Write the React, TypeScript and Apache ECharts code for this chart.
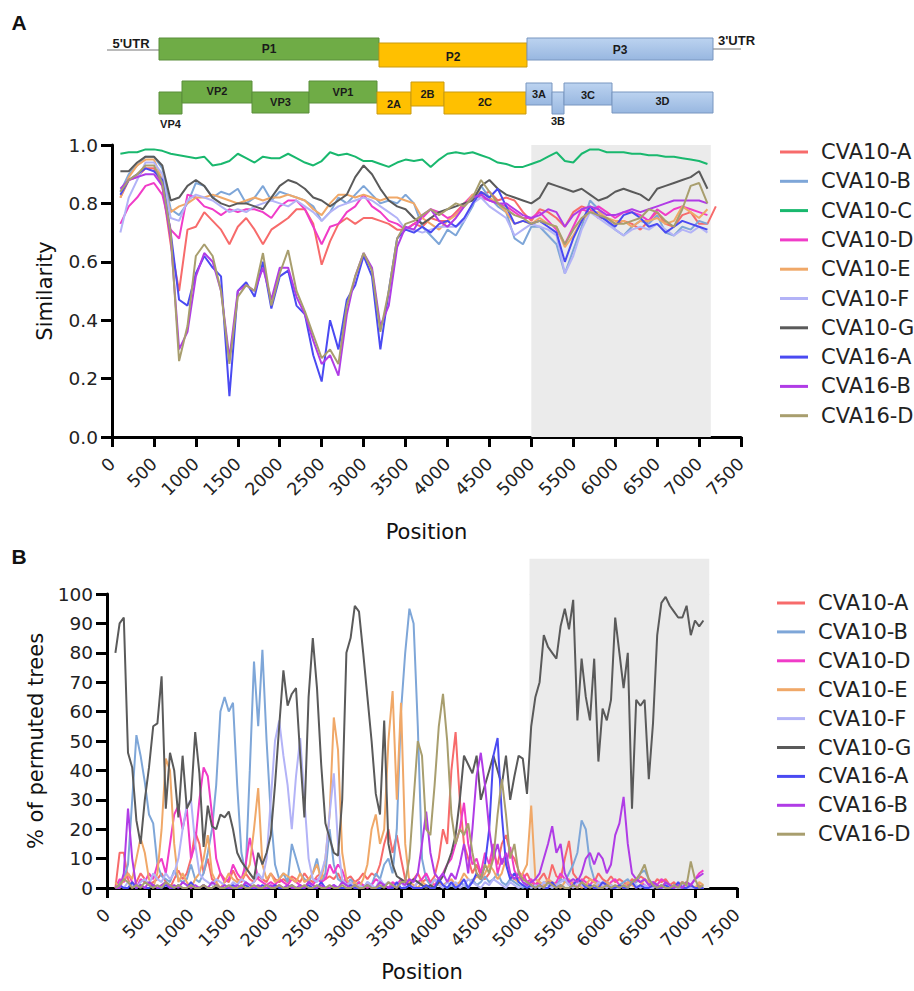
import React, { useEffect, useRef } from 'react';
import * as echarts from 'echarts';

// ---------- names & colours ----------
const NAMES_A = ['CVA10-A', 'CVA10-B', 'CVA10-C', 'CVA10-D', 'CVA10-E', 'CVA10-F', 'CVA10-G', 'CVA16-A', 'CVA16-B', 'CVA16-D'];
const NAMES_B = ['CVA10-A', 'CVA10-B', 'CVA10-D', 'CVA10-E', 'CVA10-F', 'CVA10-G', 'CVA16-A', 'CVA16-B', 'CVA16-D'];
const COLORS: Record<string, string> = {
  'CVA10-A': '#F76B6B',
  'CVA10-B': '#7EA6D8',
  'CVA10-C': '#19B86E',
  'CVA10-D': '#F03CC8',
  'CVA10-E': '#F0A868',
  'CVA10-F': '#B3B3F7',
  'CVA10-G': '#5A5A5A',
  'CVA16-A': '#4A4AF2',
  'CVA16-B': '#B03CE6',
  'CVA16-D': '#A89E6E',
};

// ---------- axis ticks ----------
const X_TICKS_MAX = 7500;
const X_TICK_STEP = 500;
const SIM_TICK_STEP = 0.2;
const PERM_TICK_STEP = 10;

// ---------- panel A: similarity (window positions 100..7200, step 100) ----------
const posA = Array.from({ length: 72 }, (_, i) => 100 + i * 100);

const simCVA10A = [
  0.82, 0.88, 0.89, 0.92, 0.92, 0.86, 0.66, 0.50, 0.71, 0.72,
  0.77, 0.74, 0.71, 0.66, 0.72, 0.75, 0.71, 0.66, 0.71, 0.73,
  0.75, 0.78, 0.78, 0.73, 0.59, 0.67, 0.73, 0.75, 0.73, 0.75,
  0.75, 0.74, 0.73, 0.71, 0.71, 0.73, 0.72, 0.75, 0.74, 0.74,
  0.77, 0.80, 0.82, 0.83, 0.84, 0.81, 0.82, 0.81, 0.77, 0.74,
  0.78, 0.77, 0.75, 0.72, 0.77, 0.79, 0.78, 0.75, 0.75, 0.73,
  0.74, 0.73, 0.71, 0.74, 0.77, 0.73, 0.72, 0.76, 0.77, 0.73,
  0.73, 0.79,
];
const simCVA10B = [
  0.84, 0.90, 0.93, 0.96, 0.96, 0.92, 0.78, 0.76, 0.80, 0.87,
  0.86, 0.82, 0.84, 0.83, 0.85, 0.80, 0.82, 0.86, 0.81, 0.84,
  0.83, 0.82, 0.81, 0.79, 0.74, 0.77, 0.82, 0.80, 0.83, 0.86,
  0.83, 0.80, 0.81, 0.80, 0.83, 0.80, 0.72, 0.69, 0.66, 0.71,
  0.69, 0.74, 0.79, 0.86, 0.82, 0.79, 0.77, 0.68, 0.66, 0.72,
  0.72, 0.69, 0.66, 0.56, 0.64, 0.72, 0.81, 0.78, 0.74, 0.71,
  0.69, 0.72, 0.74, 0.73, 0.76, 0.70, 0.69, 0.72, 0.71, 0.74,
  0.73, null,
];
const simCVA10C = [
  0.97, 0.975, 0.975, 0.985, 0.985, 0.98, 0.97, 0.965, 0.96, 0.955,
  0.96, 0.93, 0.935, 0.945, 0.97, 0.955, 0.94, 0.96, 0.955, 0.955,
  0.97, 0.955, 0.94, 0.93, 0.945, 0.975, 0.965, 0.97, 0.96, 0.945,
  0.945, 0.935, 0.925, 0.94, 0.95, 0.945, 0.95, 0.925, 0.95, 0.97,
  0.975, 0.97, 0.975, 0.965, 0.955, 0.94, 0.935, 0.925, 0.925, 0.935,
  0.945, 0.96, 0.975, 0.945, 0.94, 0.97, 0.985, 0.985, 0.975, 0.975,
  0.975, 0.97, 0.97, 0.965, 0.965, 0.96, 0.96, 0.955, 0.95, 0.945,
  0.935, null,
];
const simCVA10D = [
  0.73, 0.79, 0.82, 0.86, 0.87, 0.83, 0.71, 0.68, 0.83, 0.82,
  0.79, 0.78, 0.76, 0.78, 0.77, 0.78, 0.78, 0.77, 0.75, 0.79,
  0.81, 0.81, 0.78, 0.72, 0.66, 0.72, 0.73, 0.77, 0.79, 0.83,
  0.79, 0.77, 0.74, 0.73, 0.71, 0.73, 0.75, 0.78, 0.77, 0.75,
  0.76, 0.80, 0.83, 0.82, 0.81, 0.80, 0.79, 0.77, 0.75, 0.75,
  0.77, 0.74, 0.71, 0.66, 0.72, 0.78, 0.77, 0.79, 0.77, 0.75,
  0.77, 0.77, 0.76, 0.74, 0.78, 0.76, 0.78, 0.79, 0.78, 0.77,
  0.76, null,
];
const simCVA10E = [
  0.82, 0.89, 0.93, 0.95, 0.95, 0.88, 0.77, 0.79, 0.80, 0.82,
  0.82, 0.83, 0.82, 0.81, 0.80, 0.81, 0.82, 0.81, 0.82, 0.82,
  0.83, 0.82, 0.81, 0.78, 0.76, 0.80, 0.83, 0.83, 0.82, 0.83,
  0.82, 0.81, 0.82, 0.82, 0.81, 0.80, 0.75, 0.73, 0.71, 0.74,
  0.76, 0.79, 0.83, 0.84, 0.82, 0.80, 0.77, 0.73, 0.74, 0.73,
  0.75, 0.73, 0.72, 0.65, 0.69, 0.74, 0.77, 0.77, 0.75, 0.74,
  0.74, 0.72, 0.74, 0.74, 0.75, 0.73, 0.74, 0.79, 0.77, 0.75,
  0.78, null,
];
const simCVA10F = [
  0.70, 0.82, 0.88, 0.94, 0.94, 0.90, 0.75, 0.74, 0.81, 0.83,
  0.82, 0.81, 0.79, 0.77, 0.78, 0.77, 0.79, 0.80, 0.81, 0.80,
  0.79, 0.81, 0.79, 0.77, 0.74, 0.77, 0.79, 0.80, 0.81, 0.82,
  0.81, 0.79, 0.77, 0.75, 0.71, 0.71, 0.70, 0.71, 0.72, 0.72,
  0.72, 0.74, 0.80, 0.82, 0.79, 0.77, 0.75, 0.69, 0.71, 0.73,
  0.72, 0.71, 0.69, 0.56, 0.62, 0.71, 0.77, 0.75, 0.73, 0.71,
  0.69, 0.71, 0.72, 0.71, 0.73, 0.71, 0.69, 0.71, 0.70, 0.72,
  0.70, null,
];
const simCVA10G = [
  0.91, 0.91, 0.94, 0.96, 0.96, 0.93, 0.81, 0.82, 0.86, 0.88,
  0.86, 0.82, 0.80, 0.79, 0.80, 0.80, 0.79, 0.78, 0.82, 0.86,
  0.88, 0.87, 0.85, 0.82, 0.81, 0.79, 0.81, 0.83, 0.89, 0.93,
  0.90, 0.85, 0.81, 0.79, 0.78, 0.75, 0.73, 0.75, 0.77, 0.78,
  0.79, 0.80, 0.81, 0.86, 0.88, 0.85, 0.83, 0.82, 0.81, 0.80,
  0.82, 0.87, 0.86, 0.85, 0.84, 0.85, 0.83, 0.81, 0.82, 0.84,
  0.85, 0.84, 0.83, 0.81, 0.85, 0.86, 0.87, 0.88, 0.89, 0.91,
  0.85, null,
];
const simCVA16A = [
  0.83, 0.88, 0.90, 0.92, 0.91, 0.88, 0.70, 0.47, 0.45, 0.56,
  0.62, 0.58, 0.55, 0.14, 0.50, 0.53, 0.48, 0.60, 0.44, 0.55,
  0.57, 0.45, 0.42, 0.28, 0.19, 0.40, 0.30, 0.47, 0.52, 0.62,
  0.55, 0.30, 0.50, 0.68, 0.71, 0.70, 0.72, 0.70, 0.73, 0.74,
  0.72, 0.75, 0.80, 0.84, 0.82, 0.85, 0.79, 0.73, 0.74, 0.73,
  0.74, 0.72, 0.70, 0.60, 0.68, 0.74, 0.79, 0.76, 0.74, 0.72,
  0.76, 0.77, 0.75, 0.72, 0.73, 0.70, 0.72, 0.74, 0.73, 0.72,
  0.71, null,
];
const simCVA16B = [
  0.85, 0.88, 0.89, 0.90, 0.90, 0.86, 0.68, 0.30, 0.36, 0.55,
  0.63, 0.60, 0.50, 0.27, 0.50, 0.52, 0.50, 0.58, 0.47, 0.58,
  0.58, 0.48, 0.42, 0.33, 0.25, 0.28, 0.21, 0.42, 0.55, 0.63,
  0.58, 0.38, 0.45, 0.65, 0.72, 0.71, 0.76, 0.78, 0.74, 0.72,
  0.75, 0.79, 0.82, 0.83, 0.81, 0.80, 0.80, 0.78, 0.76, 0.75,
  0.76, 0.78, 0.77, 0.72, 0.76, 0.78, 0.79, 0.78, 0.76, 0.76,
  0.77, 0.78, 0.77, 0.78, 0.79, 0.80, 0.81, 0.81, 0.81, 0.81,
  0.80, null,
];
const simCVA16D = [
  0.84, 0.88, 0.90, 0.93, 0.93, 0.87, 0.70, 0.26, 0.38, 0.62,
  0.66, 0.62, 0.50, 0.25, 0.48, 0.52, 0.50, 0.63, 0.45, 0.56,
  0.64, 0.50, 0.43, 0.35, 0.27, 0.30, 0.25, 0.45, 0.55, 0.63,
  0.57, 0.36, 0.50, 0.68, 0.73, 0.74, 0.76, 0.78, 0.76, 0.78,
  0.80, 0.79, 0.82, 0.88, 0.84, 0.80, 0.78, 0.76, 0.75, 0.73,
  0.74, 0.73, 0.72, 0.66, 0.71, 0.75, 0.77, 0.76, 0.75, 0.73,
  0.73, 0.74, 0.75, 0.78, 0.77, 0.74, 0.72, 0.78, 0.86, 0.87,
  0.80, null,
];
const SIM_SERIES = [simCVA10A, simCVA10B, simCVA10C, simCVA10D, simCVA10E, simCVA10F, simCVA10G, simCVA16A, simCVA16B, simCVA16D];

// ---------- panel B: % of permuted trees (positions 100..7100, step 50) ----------
const posB = Array.from({ length: 141 }, (_, i) => 100 + i * 50);

const permCVA10A = [
  0, 12, 12, 3, 0, 2, 5, 3, 1, 2, 3, 5, 2, 0, 3, 6, 3, 5, 10, 19,
  15, 5, 10, 3, 2, 5, 3, 2, 6, 3, 2, 5, 3, 2, 4, 3, 2, 5, 3, 2,
  3, 2, 4, 3, 2, 5, 3, 2, 4, 5, 3, 4, 3, 5, 2, 3, 4, 2, 3, 5,
  3, 5, 4, 8, 15, 20, 12, 18, 10, 3, 2, 3, 5, 2, 3, 2, 4, 10, 20, 15,
  40, 53, 30, 15, 10, 5, 8, 4, 3, 5, 12, 8, 15, 18, 12, 10, 6, 3, 5, 2,
  1, 3, 5, 2, 8, 4, 3, 10, 16, 5, 3, 2, 4, 3, 2, 5, 3, 2, 4, 2,
  3, 2, 1, 3, 2, 4, 3, 2, 1, 3, 2, 3, 1, 2, 0, 1, 2, 1, 0, 1,
  0,
];
const permCVA10B = [
  0, 2, 3, 8, 30, 52, 45, 36, 25, 22, 8, 4, 3, 2, 6, 3, 2, 3, 8, 3,
  2, 5, 12, 20, 35, 60, 65, 60, 63, 35, 12, 5, 40, 77, 55, 81, 50, 25, 8, 3,
  5, 2, 15, 10, 5, 3, 2, 5, 10, 2, 5, 20, 8, 3, 2, 1, 3, 1, 2, 0,
  2, 1, 5, 3, 8, 10, 5, 20, 60, 80, 95, 90, 55, 10, 3, 1, 0, 2, 1, 0,
  1, 0, 2, 1, 0, 3, 1, 2, 4, 2, 3, 5, 2, 1, 3, 2, 1, 0, 1, 0,
  1, 0, 2, 1, 0, 1, 3, 2, 5, 8, 12, 23, 20, 8, 3, 1, 0, 2, 1, 0,
  1, 2, 3, 1, 2, 5, 6, 3, 1, 0, 1, 0, 0, 1, 0, 0, 1, 0, 0, 0,
  0,
];
const permCVA10D = [
  0, 3, 2, 5, 2, 0, 3, 2, 5, 3, 8, 10, 5, 15, 25, 28, 20, 27, 10, 15,
  30, 41, 38, 25, 10, 5, 2, 3, 8, 5, 3, 8, 17, 10, 3, 2, 1, 2, 1, 3,
  2, 1, 3, 2, 1, 0, 2, 1, 3, 2, 3, 8, 5, 8, 6, 2, 1, 0, 2, 1,
  0, 1, 3, 2, 1, 0, 2, 1, 3, 2, 1, 0, 2, 3, 5, 2, 1, 3, 5, 8,
  10, 15, 20, 29, 15, 8, 10, 5, 12, 8, 15, 5, 10, 8, 14, 6, 3, 5, 2, 3,
  1, 2, 0, 3, 1, 2, 5, 3, 1, 2, 0, 3, 2, 1, 3, 2, 1, 0, 2, 3,
  1, 0, 2, 1, 3, 2, 1, 0, 2, 1, 3, 2, 1, 0, 1, 2, 0, 1, 3, 5,
  6,
];
const permCVA10E = [
  2, 0, 3, 5, 3, 10, 17, 12, 3, 0, 5, 20, 44, 40, 15, 2, 5, 2, 0, 3,
  5, 10, 18, 5, 2, 0, 2, 5, 3, 2, 3, 5, 8, 20, 34, 8, 3, 5, 2, 3,
  5, 4, 3, 2, 5, 2, 3, 5, 8, 3, 10, 25, 58, 47, 12, 3, 1, 2, 0, 3,
  8, 20, 25, 15, 20, 50, 67, 30, 63, 15, 2, 1, 0, 2, 1, 0, 3, 2, 1, 2,
  3, 1, 2, 5, 3, 2, 4, 3, 5, 8, 6, 3, 5, 10, 4, 3, 2, 5, 8, 28,
  3, 2, 1, 3, 2, 1, 0, 2, 3, 1, 2, 0, 1, 3, 2, 1, 0, 2, 1, 0,
  1, 0, 2, 1, 0, 1, 3, 2, 0, 1, 0, 2, 1, 0, 1, 2, 0, 1, 0, 2,
  1,
];
const permCVA10F = [
  0, 1, 0, 2, 1, 0, 2, 3, 1, 5, 3, 2, 5, 3, 5, 10, 20, 28, 30, 15,
  5, 3, 2, 1, 3, 2, 1, 0, 2, 1, 3, 2, 1, 2, 5, 3, 10, 30, 50, 57,
  45, 35, 20, 38, 51, 30, 10, 3, 2, 5, 10, 25, 39, 15, 3, 1, 2, 0, 1, 0,
  2, 1, 0, 3, 1, 2, 0, 1, 2, 0, 1, 0, 2, 1, 0, 1, 3, 1, 0, 2,
  1, 2, 0, 1, 3, 2, 1, 0, 2, 1, 3, 2, 1, 0, 2, 1, 0, 1, 2, 0,
  1, 0, 2, 1, 0, 1, 2, 3, 1, 0, 2, 1, 0, 1, 0, 2, 1, 0, 1, 0,
  0, 1, 0, 2, 1, 0, 1, 0, 0, 1, 0, 0, 1, 0, 0, 1, 0, 0, 0, 0,
  0,
];
const permCVA10G = [
  80, 90, 92, 46, 41, 23, 15, 30, 41, 55, 56, 72, 27, 46, 40, 24, 45, 27, 30, 53,
  39, 14, 28, 21, 20, 25, 24, 26, 20, 12, 9, 7, 5, 3, 12, 8, 12, 18, 35, 55,
  74, 62, 66, 68, 45, 24, 65, 85, 68, 42, 22, 17, 12, 11, 30, 80, 85, 96, 94, 80,
  65, 50, 32, 25, 57, 15, 8, 4, 3, 2, 1, 3, 2, 1, 0, 1, 0, 2, 4, 8,
  12, 18, 30, 45, 42, 39, 45, 30, 35, 40, 45, 40, 35, 45, 30, 38, 45, 44, 32, 55,
  65, 70, 86, 82, 80, 78, 89, 95, 88, 98, 57, 78, 65, 57, 78, 43, 61, 57, 64, 92,
  80, 68, 80, 27, 64, 62, 64, 37, 56, 86, 97, 99, 96, 94, 92, 92, 96, 86, 91, 89,
  91,
];
const permCVA16A = [
  0, 1, 0, 0, 2, 0, 1, 0, 0, 1, 0, 0, 1, 0, 0, 1, 0, 0, 2, 0,
  0, 1, 0, 0, 1, 0, 0, 0, 1, 0, 0, 1, 0, 0, 0, 1, 0, 0, 1, 0,
  0, 0, 1, 0, 0, 0, 1, 0, 0, 2, 0, 0, 1, 0, 0, 0, 1, 0, 0, 0,
  1, 0, 0, 0, 1, 0, 0, 2, 0, 0, 1, 0, 0, 0, 1, 0, 0, 3, 1, 0,
  2, 0, 1, 3, 0, 2, 5, 3, 8, 20, 45, 51, 25, 8, 3, 5, 2, 1, 0, 1,
  0, 1, 0, 0, 2, 0, 1, 0, 0, 1, 3, 2, 0, 1, 0, 0, 2, 1, 0, 0,
  1, 0, 0, 2, 0, 1, 0, 0, 1, 0, 0, 1, 0, 0, 2, 0, 0, 1, 0, 0,
  0,
];
const permCVA16B = [
  0, 0, 5, 27, 10, 0, 1, 0, 2, 1, 0, 1, 2, 0, 1, 0, 2, 1, 0, 1,
  0, 1, 0, 2, 1, 0, 1, 0, 0, 1, 0, 2, 1, 0, 1, 0, 0, 1, 0, 1,
  0, 1, 0, 0, 1, 0, 2, 1, 0, 1, 0, 0, 1, 0, 2, 1, 0, 1, 0, 0,
  1, 0, 0, 2, 1, 0, 1, 0, 2, 1, 3, 2, 5, 15, 26, 12, 5, 3, 5, 2,
  5, 3, 8, 15, 5, 20, 38, 46, 35, 20, 10, 15, 8, 12, 5, 3, 5, 2, 1, 2,
  3, 5, 10, 15, 21, 12, 15, 5, 2, 3, 2, 5, 10, 12, 8, 12, 10, 5, 8, 18,
  22, 31, 15, 5, 3, 2, 3, 1, 2, 1, 0, 2, 1, 0, 1, 0, 2, 1, 3, 4,
  5,
];
const permCVA16D = [
  0, 1, 3, 2, 0, 1, 0, 2, 1, 0, 1, 0, 2, 1, 0, 1, 0, 0, 1, 0,
  0, 1, 0, 0, 1, 0, 0, 1, 0, 0, 1, 0, 0, 1, 0, 0, 1, 0, 0, 1,
  0, 0, 1, 0, 0, 1, 0, 0, 1, 0, 0, 1, 0, 0, 1, 0, 0, 1, 0, 0,
  1, 0, 0, 1, 0, 2, 1, 0, 2, 2, 10, 30, 50, 45, 20, 18, 35, 55, 66, 50,
  25, 15, 20, 18, 22, 12, 5, 3, 8, 5, 10, 25, 37, 25, 10, 15, 5, 3, 2, 1,
  0, 1, 0, 2, 1, 0, 1, 0, 0, 1, 0, 2, 1, 0, 1, 0, 0, 1, 0, 1,
  0, 1, 0, 2, 3, 5, 8, 3, 1, 0, 1, 0, 0, 1, 0, 2, 1, 9, 3, 0,
  1,
];
const PERM_SERIES = [permCVA10A, permCVA10B, permCVA10D, permCVA10E, permCVA10F, permCVA10G, permCVA16A, permCVA16B, permCVA16D];

// shaded region (genome positions); panel B shading reaches above the 100 line
const SHADE_A = [5000, 7140];
const SHADE_B = [5030, 7170];
const SHADE_B_TOP = 112;

// genome map (diagram, pixel layout)
const GENOME_ROW1 = [
  { label: 'P1', x: 159, y: 38, w: 220, h: 22, kind: 'g', ty: 49 },
  { label: 'P2', x: 379, y: 43, w: 148, h: 24, kind: 'y', ty: 57 },
  { label: 'P3', x: 527, y: 38, w: 186, h: 22, kind: 'b', ty: 50 },
];
const GENOME_ROW2 = [
  { label: 'VP4', x: 159, y: 92, w: 23, h: 22, kind: 'g', ty: 124 },
  { label: 'VP2', x: 182, y: 81, w: 70, h: 22, kind: 'g', ty: 91 },
  { label: 'VP3', x: 252, y: 92, w: 57, h: 21, kind: 'g', ty: 102 },
  { label: 'VP1', x: 309, y: 81, w: 68, h: 22, kind: 'g', ty: 92 },
  { label: '2A', x: 377, y: 92, w: 34, h: 22, kind: 'y', ty: 104 },
  { label: '2B', x: 411, y: 82, w: 33, h: 24, kind: 'y', ty: 94 },
  { label: '2C', x: 444, y: 92, w: 82, h: 22, kind: 'y', ty: 102 },
  { label: '3A', x: 526, y: 83, w: 26, h: 22, kind: 'b', ty: 94 },
  { label: '3B', x: 552, y: 92, w: 12, h: 22, kind: 'b', ty: 121 },
  { label: '3C', x: 564, y: 83, w: 48, h: 22, kind: 'b', ty: 95 },
  { label: '3D', x: 612, y: 92, w: 101, h: 21, kind: 'b', ty: 101 },
];

const FONT = 'DejaVu Sans';
const BOXFONT = 'Liberation Sans, Arial, sans-serif';
const TEXT = '#222';

function pairs(pos: number[], vals: (number | null)[]) {
  const out: [number, number][] = [];
  vals.forEach((v, i) => {
    if (v !== null && v !== undefined && i < pos.length) out.push([pos[i], v]);
  });
  return out;
}

function boxFill(kind: string) {
  if (kind === 'g') return { fill: '#6FAC46', stroke: '#5B8E3B' };
  if (kind === 'y') return { fill: '#FFC000', stroke: '#C99A10' };
  return {
    fill: new echarts.graphic.LinearGradient(0, 0, 0, 1, [
      { offset: 0, color: '#BCD3F0' },
      { offset: 1, color: '#98B7E0' },
    ]),
    stroke: '#7896C0',
  };
}

function buildGraphic() {
  const els: any[] = [];
  els.push({ type: 'text', x: 19, y: 22, style: { text: 'A', font: `bold 21px ${BOXFONT}`, fill: '#111', align: 'center', verticalAlign: 'middle' } });
  els.push({ type: 'text', x: 19, y: 556, style: { text: 'B', font: `bold 21px ${BOXFONT}`, fill: '#111', align: 'center', verticalAlign: 'middle' } });
  els.push({ type: 'line', shape: { x1: 107, y1: 50, x2: 159, y2: 50 }, style: { stroke: '#777', lineWidth: 1 } });
  els.push({ type: 'line', shape: { x1: 713, y1: 49, x2: 741, y2: 49 }, style: { stroke: '#777', lineWidth: 1 } });
  els.push({ type: 'text', x: 131, y: 43, style: { text: "5'UTR", font: `bold 13px ${BOXFONT}`, fill: '#1a1a1a', align: 'center', verticalAlign: 'middle' } });
  els.push({ type: 'text', x: 718, y: 40, style: { text: "3'UTR", font: `bold 13px ${BOXFONT}`, fill: '#1a1a1a', align: 'left', verticalAlign: 'middle' } });
  [...GENOME_ROW1, ...GENOME_ROW2].forEach((s) => {
    const c = boxFill(s.kind);
    els.push({ type: 'rect', shape: { x: s.x, y: s.y, width: s.w, height: s.h }, style: { fill: c.fill, stroke: c.stroke, lineWidth: 1 } });
  });
  [...GENOME_ROW1, ...GENOME_ROW2].forEach((s) => {
    const big = s.label.length === 2 && s.label[0] === 'P';
    els.push({
      type: 'text',
      x: s.x + s.w / 2,
      y: s.ty,
      z: 10,
      style: { text: s.label, font: `bold ${big ? 12 : 11}px ${BOXFONT}`, fill: '#1a1a1a', align: 'center', verticalAlign: 'middle' },
    });
  });
  return els;
}

function xAxisCfg(gridIndex: number, nameGap: number) {
  return {
    gridIndex,
    type: 'value',
    min: 0,
    max: X_TICKS_MAX,
    interval: X_TICK_STEP,
    name: 'Position',
    nameLocation: 'middle',
    nameGap,
    nameTextStyle: { fontSize: 21, color: '#111', fontFamily: FONT },
    axisLine: { show: true, lineStyle: { color: '#000', width: 3 } },
    axisTick: { show: true, length: 10, lineStyle: { color: '#000', width: 3 } },
    axisLabel: {
      rotate: 45, fontSize: 17.5, color: TEXT, margin: 24, fontFamily: FONT,
      showMinLabel: true, showMaxLabel: true,
      formatter: (v: number) => String(v),
    },
    splitLine: { show: false },
  };
}

function yAxisCfg(gridIndex: number, max: number, interval: number, name: string, nameGap: number, fmt: (v: number) => string) {
  return {
    gridIndex,
    type: 'value',
    min: 0,
    max,
    interval,
    name,
    nameLocation: 'middle',
    nameGap,
    nameRotate: 90,
    nameTextStyle: { fontSize: 21, color: '#111', fontFamily: FONT },
    axisLine: { show: true, lineStyle: { color: '#000', width: 3 } },
    axisTick: { show: true, length: 11, lineStyle: { color: '#000', width: 3 } },
    axisLabel: { fontSize: 18.5, color: TEXT, margin: 14, fontFamily: FONT, formatter: fmt },
    splitLine: { show: false },
  };
}

export default function App() {
  const ref = useRef<HTMLDivElement>(null);
  useEffect(() => {
    document.body.style.margin = '0';
    if (!ref.current) return;
    const chart = echarts.init(ref.current, undefined, { renderer: 'svg' });

    const seriesA = NAMES_A.map((name, i) => ({
      name,
      type: 'line',
      xAxisIndex: 0,
      yAxisIndex: 0,
      data: pairs(posA, SIM_SERIES[i]),
      showSymbol: false,
      symbol: 'none',
      z: 3,
      lineStyle: { width: 2, color: COLORS[name] },
      itemStyle: { color: COLORS[name] },
      emphasis: { disabled: true },
    }));
    const seriesB = NAMES_B.map((name, i) => ({
      name,
      type: 'line',
      xAxisIndex: 1,
      yAxisIndex: 1,
      data: pairs(posB, PERM_SERIES[i]),
      showSymbol: false,
      symbol: 'none',
      z: 3,
      lineStyle: { width: 2, color: COLORS[name] },
      itemStyle: { color: COLORS[name] },
      emphasis: { disabled: true },
    }));
    const shadeA = {
      name: 'shadeA',
      type: 'line',
      xAxisIndex: 0,
      yAxisIndex: 0,
      data: [],
      z: 1,
      silent: true,
      markArea: {
        silent: true,
        itemStyle: { color: '#EBEBEB' },
        data: [[{ xAxis: SHADE_A[0], yAxis: 0 }, { xAxis: SHADE_A[1], yAxis: 1 }]],
      },
    };
    const shadeB = {
      name: 'shadeB',
      type: 'line',
      xAxisIndex: 1,
      yAxisIndex: 1,
      data: [],
      z: 1,
      silent: true,
      markArea: {
        silent: true,
        itemStyle: { color: '#EBEBEB' },
        data: [[{ xAxis: SHADE_B[0], yAxis: 0 }, { xAxis: SHADE_B[1], yAxis: 100 }]],
      },
    };

    const legendCommon = {
      orient: 'vertical',
      icon: 'rect',
      itemWidth: 28,
      itemHeight: 3,
      selectedMode: false,
      textStyle: { fontSize: 21, color: TEXT, fontFamily: FONT, lineHeight: 22, padding: [0, 0, 0, 8] },
    };

    chart.setOption({
      animation: false,
      backgroundColor: '#fff',
      textStyle: { fontFamily: FONT },
      grid: [
        { left: 112, top: 145, width: 629, height: 292, containLabel: false },
        { left: 107, top: 594, width: 630, height: 294, containLabel: false },
      ],
      xAxis: [xAxisCfg(0, 84), xAxisCfg(1, 73)],
      yAxis: [
        yAxisCfg(0, 1, SIM_TICK_STEP, 'Similarity', 57, (v: number) => v.toFixed(1)),
        yAxisCfg(1, 100, PERM_TICK_STEP, '% of permuted trees', 53, (v: number) => String(v)),
      ],
      legend: [
        { ...legendCommon, left: 775, top: 136, itemGap: 7.3, data: NAMES_A },
        { ...legendCommon, left: 772, top: 587, itemGap: 6.9, data: NAMES_B },
      ],
      graphic: buildGraphic(),
      series: [shadeA, shadeB, ...seriesA, ...seriesB],
    });

    // extend panel B shading above the 100 % line (outside the grid clip)
    const p0 = chart.convertToPixel({ xAxisIndex: 1, yAxisIndex: 1 }, [SHADE_B[0], 100]) as number[];
    const p1 = chart.convertToPixel({ xAxisIndex: 1, yAxisIndex: 1 }, [SHADE_B[1], SHADE_B_TOP]) as number[];
    chart.setOption({
      graphic: [
        ...buildGraphic(),
        {
          type: 'rect',
          z: -1,
          silent: true,
          shape: { x: p0[0], y: p1[1], width: p1[0] - p0[0], height: p0[1] - p1[1] + 1 },
          style: { fill: '#EBEBEB' },
        },
      ],
    });
    return () => chart.dispose();
  }, []);
  return <div ref={ref} style={{ width: 914, height: 991 }} />;
}
